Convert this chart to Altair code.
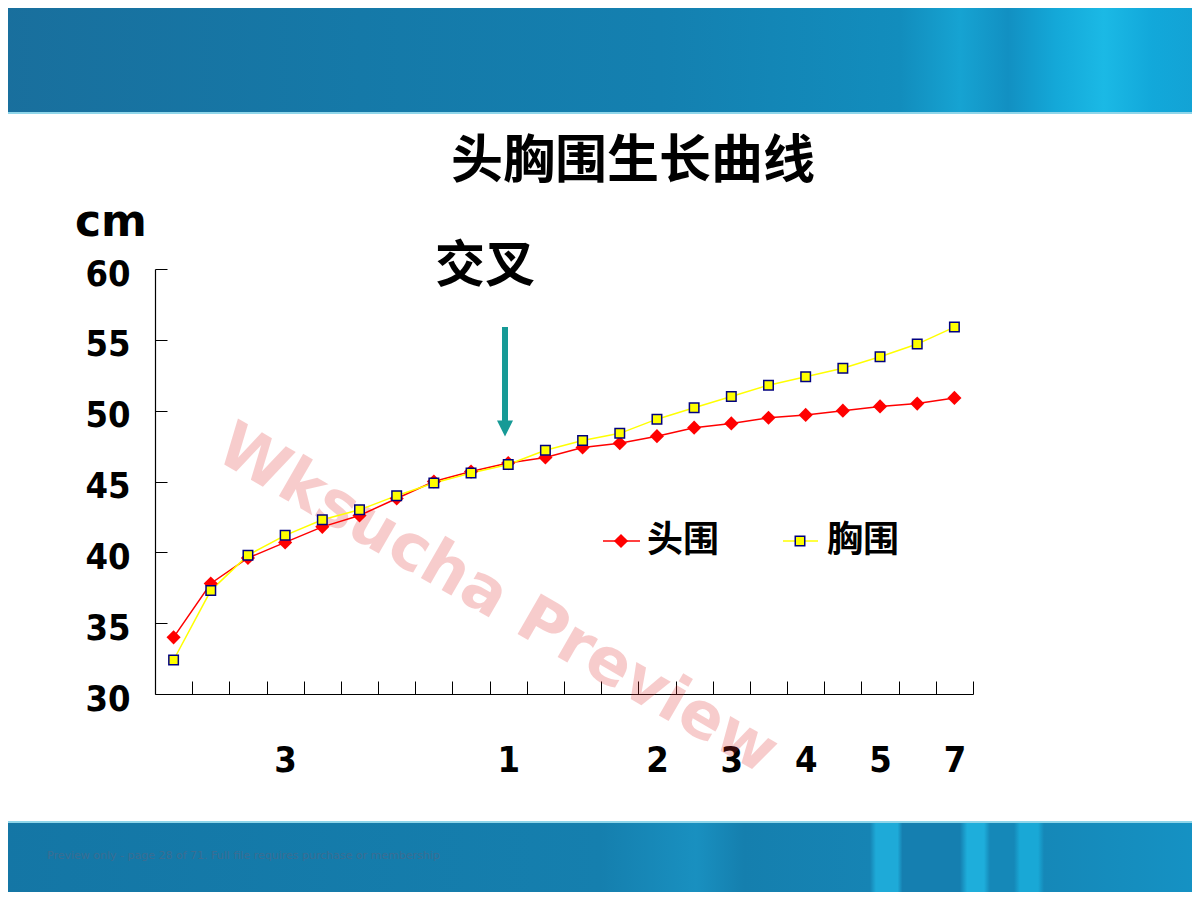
import altair as alt
import pandas as pd

# ---- data ----
age_index = list(range(22))
head_circ = [34.0, 37.8, 39.6, 40.7, 41.8, 42.6, 43.8, 45.0, 45.7, 46.3, 46.7,
             47.4, 47.7, 48.2, 48.8, 49.1, 49.5, 49.7, 50.0, 50.3, 50.5, 50.9]
chest_circ = [32.4, 37.3, 39.8, 41.2, 42.3, 43.0, 44.0, 44.9, 45.6, 46.2, 47.2,
              47.9, 48.4, 49.4, 50.2, 51.0, 51.8, 52.4, 53.0, 53.8, 54.7, 55.9]
x_label_idx = [3, 9, 13, 15, 17, 19, 21]
x_label_text = ["3", "1", "2", "3", "4", "5", "7"]
y_ticks = [30, 35, 40, 45, 50, 55, 60]
series_names = ["头围", "胸围"]

head_df = pd.DataFrame({"idx": age_index, "cm": head_circ, "series": series_names[0]})
chest_df = pd.DataFrame({"idx": age_index, "cm": chest_circ, "series": series_names[1]})
edge_ticks = [i + 0.5 for i in age_index]
label_expr = "".join(f"datum.value == {i} ? '{t}' : " for i, t in zip(x_label_idx, x_label_text)) + "''"

CJK = "Noto Sans CJK SC"
NUM = "DejaVu Sans Condensed, DejaVu Sans"
RED = "#ff0000"
YEL = "#ffff00"

xs = alt.Scale(domain=[-0.5, 21.5], nice=False, zero=False)
ys = alt.Scale(domain=[30, 60], nice=False, zero=False)
dummy = pd.DataFrame({"d": [0]})

# ---- decorative slide banners ----
top_grad = alt.Gradient(gradient="linear", x1=0, x2=1, y1=0, y2=0, stops=[
    alt.GradientStop(color="#196f9d", offset=0),
    alt.GradientStop(color="#1579a8", offset=0.3),
    alt.GradientStop(color="#1480b0", offset=0.55),
    alt.GradientStop(color="#128dbd", offset=0.75),
    alt.GradientStop(color="#16a3d2", offset=0.8),
    alt.GradientStop(color="#1290c2", offset=0.84),
    alt.GradientStop(color="#14a8d8", offset=0.88),
    alt.GradientStop(color="#1bb9e5", offset=0.92),
    alt.GradientStop(color="#12a8da", offset=0.96),
    alt.GradientStop(color="#13a2d4", offset=1),
])
bot_grad = alt.Gradient(gradient="linear", x1=0, x2=1, y1=0, y2=0, stops=[
    alt.GradientStop(color="#1476a5", offset=0),
    alt.GradientStop(color="#157fae", offset=0.5),
    alt.GradientStop(color="#1990c0", offset=0.58),
    alt.GradientStop(color="#157fae", offset=0.62),
    alt.GradientStop(color="#1684b4", offset=0.725),
    alt.GradientStop(color="#1eaad8", offset=0.73),
    alt.GradientStop(color="#1eaad8", offset=0.748),
    alt.GradientStop(color="#157fb0", offset=0.752),
    alt.GradientStop(color="#157fb0", offset=0.80),
    alt.GradientStop(color="#1eaedb", offset=0.806),
    alt.GradientStop(color="#1eaedb", offset=0.82),
    alt.GradientStop(color="#1588b8", offset=0.825),
    alt.GradientStop(color="#1588b8", offset=0.845),
    alt.GradientStop(color="#19a8d6", offset=0.85),
    alt.GradientStop(color="#19a8d6", offset=0.865),
    alt.GradientStop(color="#1588b8", offset=0.87),
    alt.GradientStop(color="#1592c4", offset=1),
])

top_banner = alt.Chart(dummy).mark_rect(fill=top_grad).encode(
    x=alt.value(-155), x2=alt.value(1045), y=alt.value(-275), y2=alt.value(-156))
top_edge = alt.Chart(dummy).mark_rule(color="#8fd6ea", strokeWidth=2).encode(
    x=alt.value(-155), x2=alt.value(1045), y=alt.value(-156))
bot_banner = alt.Chart(dummy).mark_rect(fill=bot_grad).encode(
    x=alt.value(-155), x2=alt.value(1045), y=alt.value(553), y2=alt.value(628))
bot_edge = alt.Chart(dummy).mark_rule(color="#8fd6ea", strokeWidth=2).encode(
    x=alt.value(-155), x2=alt.value(1045), y=alt.value(553))
footer = alt.Chart(dummy).mark_text(
    text="Preview only - page 28 of 71. Full file requires purchase or membership",
    font="DejaVu Sans", fontSize=11, color="#3b6d93", align="left", baseline="middle"
).encode(x=alt.value(-108), y=alt.value(587))

watermark = alt.Chart(dummy).mark_text(
    text="Wksucha Preview", font="DejaVu Sans", fontWeight="bold", fontSize=64,
    color="#e03030", opacity=0.24, angle=30, align="center", baseline="middle"
).encode(x=alt.value(342), y=alt.value(331))

# ---- data layers ----
head_line = alt.Chart(head_df).mark_line(color=RED, strokeWidth=1.5).encode(
    x=alt.X("idx:Q", scale=xs, axis=alt.Axis(
        orient="bottom", values=x_label_idx, labelExpr=label_expr, ticks=False, tickSize=0,
        domain=True, domainColor="black", domainWidth=1.2, grid=False, title=None,
        labelFont=NUM, labelFontSize=36, labelFontWeight="bold", labelColor="black",
        labelPadding=66, labelBaseline="middle", labelFlush=False, labelOverlap=False)),
    y=alt.Y("cm:Q", scale=ys, axis=alt.Axis(
        orient="left", values=y_ticks, ticks=False, tickSize=0,
        domain=True, domainColor="black", domainWidth=1.2, grid=False, title=None,
        labelFont=NUM, labelFontSize=36, labelFontWeight="bold", labelColor="black",
        labelPadding=25, labelAlign="right", labelBaseline="middle", labelOffset=5,
        labelFlush=False, labelOverlap=False)),
)
chest_line = alt.Chart(chest_df).mark_line(color=YEL, strokeWidth=1.5).encode(
    x=alt.X("idx:Q", scale=xs, axis=alt.Axis(
        orient="bottom", values=edge_ticks, labels=False, domain=False, grid=False,
        ticks=True, tickSize=13, offset=-13, tickColor="black", tickWidth=1, title=None)),
    y=alt.Y("cm:Q", scale=ys, axis=alt.Axis(
        orient="left", values=y_ticks, labels=False, domain=False, grid=False,
        ticks=True, tickSize=12, offset=-12, tickColor="black", tickWidth=1, title=None)),
)
head_pts = alt.Chart(head_df).mark_point(shape="diamond", filled=True, color=RED, size=200, opacity=1).encode(
    x=alt.X("idx:Q", scale=xs, axis=None), y=alt.Y("cm:Q", scale=ys, axis=None))
chest_pts = alt.Chart(chest_df).mark_point(shape="square", filled=True, fill=YEL, stroke="#000080",
                                           strokeWidth=1.5, size=90, opacity=1).encode(
    x=alt.X("idx:Q", scale=xs, axis=None), y=alt.Y("cm:Q", scale=ys, axis=None))

# ---- annotations ----
title = alt.Chart(dummy).mark_text(
    text="头胸围生长曲线", font=CJK, fontWeight="bold", fontSize=52, color="black",
    align="center", baseline="middle").encode(x=alt.value(478), y=alt.value(-107))
unit = alt.Chart(dummy).mark_text(
    text="cm", font="DejaVu Sans", fontWeight="bold", fontSize=44, color="black",
    align="center", baseline="middle").encode(x=alt.value(-44), y=alt.value(-46))
cross = alt.Chart(dummy).mark_text(
    text="交叉", font=CJK, fontWeight="bold", fontSize=50, color="black",
    align="center", baseline="middle").encode(x=alt.value(330), y=alt.value(-2))
arrow_shaft = alt.Chart(dummy).mark_rule(color="#169a96", strokeWidth=6).encode(
    x=alt.value(350), y=alt.value(58), y2=alt.value(154))
arrow_head = alt.Chart(dummy).mark_point(shape="M-1,-1L1,-1L0,1Z", filled=True, color="#169a96",
                                         size=256, opacity=1).encode(x=alt.value(350), y=alt.value(159.5))

# ---- legend ----
leg_r_line = alt.Chart(dummy).mark_rule(color=RED, strokeWidth=1.5).encode(
    x=alt.value(448), x2=alt.value(485), y=alt.value(272))
leg_r_pt = alt.Chart(dummy).mark_point(shape="diamond", filled=True, color=RED, size=200, opacity=1).encode(
    x=alt.value(466), y=alt.value(272))
leg_r_txt = alt.Chart(dummy).mark_text(
    text=series_names[0], font=CJK, fontWeight="bold", fontSize=36, color="black",
    align="left", baseline="middle").encode(x=alt.value(492), y=alt.value(272))
leg_y_line = alt.Chart(dummy).mark_rule(color=YEL, strokeWidth=1.5).encode(
    x=alt.value(628), x2=alt.value(663), y=alt.value(272))
leg_y_pt = alt.Chart(dummy).mark_point(shape="square", filled=True, fill=YEL, stroke="#000080",
                                       strokeWidth=1.5, size=90, opacity=1).encode(
    x=alt.value(645), y=alt.value(272))
leg_y_txt = alt.Chart(dummy).mark_text(
    text=series_names[1], font=CJK, fontWeight="bold", fontSize=36, color="black",
    align="left", baseline="middle").encode(x=alt.value(672), y=alt.value(272))

chart = alt.layer(
    top_banner, top_edge, bot_banner, bot_edge, footer, watermark,
    head_line, chest_line, head_pts, chest_pts,
    title, unit, cross, arrow_shaft, arrow_head,
    leg_r_line, leg_r_pt, leg_r_txt, leg_y_line, leg_y_pt, leg_y_txt,
).resolve_axis(x="independent", y="independent").properties(
    width=818, height=425,
    autosize=alt.AutoSizeParams(type="none"),
    padding={"left": 147, "top": 261, "right": 219, "bottom": 198},
    background="white",
).configure_view(stroke=None)

chart.save("out.html", embed_options={"renderer": "svg", "actions": False})
